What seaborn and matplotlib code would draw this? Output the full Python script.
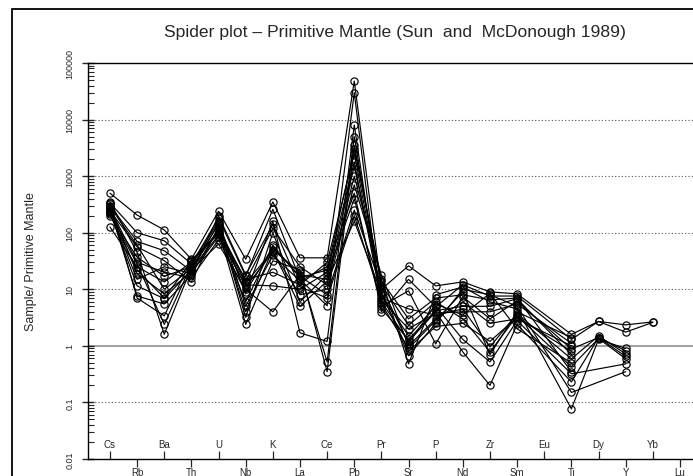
import numpy as np
import pandas as pd
import matplotlib
matplotlib.use("Agg")
import matplotlib.pyplot as plt
import matplotlib.ticker as mticker
from matplotlib.patches import Rectangle
import seaborn as sns

sns.set_style("ticks")
plt.rcParams["font.family"] = ["Liberation Sans", "DejaVu Sans"]

nan = np.nan
elements = ["Cs", "Rb", "Ba", "Th", "U", "Nb", "K", "La", "Ce", "Pb", "Pr",
            "Sr", "P", "Nd", "Zr", "Sm", "Eu", "Ti", "Dy", "Y", "Yb", "Lu"]

Cs = [500, 335, 300, 245, 200, 126, 280, 230, 260, 320, 220, 350, 270, 240, 210, 290]
Rb = [205, 100, 70, 56, 37, 25, 19, 11.5, 7.6, 7.0, 28, 45, 30, 15, 22, 60]
Ba = [112, 72, 48, 32, 17, 13.5, 8.3, 6.8, 5.5, 3.4, 2.4, 1.6, 20, 25, 7, 10]
Th = [34, 28, 21, 13.5, 25, 30, 20, 22, 18, 33, 27, 24, 16, 19, 31, 23]
U = [240, 180, 150, 130, 110, 100, 85, 63, 120, 95, 160, 140, 75, 200, 105, 90]
Nb = [34, 17, 8.3, 4, 2.4, 15, 12, 10, 14, 11, 5, 3.2, 9, 18, 13, 6]
K = [350, 260, 160, 50, 32, 20, 11.5, 4, 120, 45, 40, 100, 55, 140, 48, 60]
La = [36, 15, 1.7, 20, 22, 12, 10, 18, 25, 8, 14, 6, 17, 11, 5, 16]
Ce = [36, 5.1, 1.2, 0.52, 0.35, 30, 20, 15, 12, 10, 25, 18, 8, 7, 14, 22]
Pb = [48000, 30000, 8000, 5000, 3500, 2500, 1800, 1500, 1000, 700, 500, 400, 250, 200, 160, 3000]
Pr = [10, 4, 5, 7, 12, 8, 6, 9, 15, 18, 4.5, 5.5, 11, 6.5, 8.5, 14]
Sr = [26, 15, 9.4, 4.5, 2.3, 1.5, 1.2, 0.67, 0.48, 1.0, 1.3, 0.9, 1.1, 2.0, 0.8, 3.0]
P = [11.5, 4.9, 1.08, 3.5, 6, 5, 4, 2.5, 8, 3, 4.2, 2.8, 5.5, 3.8, 2.2, 7]
Nd = [13.5, 12, 7.4, 4.5, 3, 1.3, 0.78, 10, 11, 6, 5, 9, 3.5, 4, 2.5, 8]
Zr = [9, 7.6, 3, 0.96, 0.78, 0.52, 0.2, 8, 6, 2.5, 5, 0.7, 8.5, 4, 1.2, 6.5]
Sm = [8.3, 7.6, 6.2, 3.7, 3.4, 2.8, 2.4, 5, 4.5, 3, 6.8, 4, 2, 5.5, 3.2, 7]
Eu = [nan] * 16
Ti = [1.6, 1.3, 0.88, 0.59, 0.43, 0.32, 0.23, 0.15, 0.077, 1.0, 0.7, 1.4, 0.5, 1.1, 0.8, 0.35]
Dy = [2.7, 2.7, 1.4, 1.5, 1.35, nan, 1.4, nan, 1.3, nan, nan, nan, nan, nan, nan, nan]
Y = [2.35, 1.75, 0.82, 0.72, 0.59, 0.48, 0.65, 0.35, 0.9, nan, nan, nan, nan, nan, nan, nan]
Yb = [2.65, 2.6, nan, nan, nan, nan, nan, nan, nan, nan, nan, nan, nan, nan, nan, nan]
Lu = [nan] * 16

columns = [Cs, Rb, Ba, Th, U, Nb, K, La, Ce, Pb, Pr, Sr, P, Nd, Zr, Sm, Eu, Ti, Dy, Y, Yb, Lu]
ytick_vals = [0.01, 0.1, 1, 10, 100, 1000, 10000, 100000]
ytick_labels = ["0.01", "0.1", "1", "10", "100", "1000", "10000", "100000"]

rows = []
for ei, (el, vals) in enumerate(zip(elements, columns)):
    for si, v in enumerate(vals):
        rows.append({"sample": si, "pos": ei, "element": el, "value": v})
df = pd.DataFrame(rows).dropna().sort_values(["sample", "pos"])

W, H = 693, 477
fig = plt.figure(figsize=(W / 100, H / 100), dpi=100)
ax = fig.add_axes([88 / W, 1 - 460 / H, 1 - 88 / W, (460 - 64) / H])

ax.set_yscale("log")
ax.set_ylim(0.01, 100000)
ax.set_xlim(-0.81, 21.48)

# grid lines
for gv in [0.1, 10, 100, 1000, 10000]:
    ax.axhline(gv, color="#555555", lw=0.8, ls=(0, (1, 2)), zorder=0)
ax.axhline(1, color="#999999", lw=1.3, zorder=0)

sns.lineplot(data=df, x="pos", y="value", units="sample", estimator=None,
             sort=False, color="black", lw=0.85, marker="o", markersize=5.2,
             markerfacecolor="none", markeredgecolor="black",
             markeredgewidth=0.85, legend=False, ax=ax)

# spines
ax.spines["right"].set_visible(False)
for s in ["left", "top", "bottom"]:
    ax.spines[s].set_linewidth(1.0)
    ax.spines[s].set_color("black")

# y ticks
ax.yaxis.set_major_locator(mticker.FixedLocator(ytick_vals))
ax.yaxis.set_major_formatter(mticker.FixedFormatter(ytick_labels))
ax.yaxis.set_minor_locator(mticker.LogLocator(base=10, subs=np.arange(2, 10), numticks=20))
ax.yaxis.set_minor_formatter(mticker.NullFormatter())
ax.tick_params(axis="y", which="major", direction="inout", length=9, width=1.0,
               labelsize=6.5, pad=5, left=True)
ax.tick_params(axis="y", which="minor", direction="in", length=4.5, width=0.8, left=True)
for lab in ax.get_yticklabels():
    lab.set_rotation(90)
    lab.set_va("center")

# x ticks: alternating rows
pos = np.arange(len(elements))
ax.set_xticks(pos[::2])
ax.set_xticklabels([])
ax.set_xticks(pos[1::2], minor=True)
ax.set_xticklabels(elements[1::2], minor=True)
ax.tick_params(axis="x", which="major", direction="in", length=6, width=0.9, bottom=True)
ax.tick_params(axis="x", which="minor", direction="out", length=5.5, width=0.9,
               labelsize=7, pad=0.5, bottom=True)
for p, el in zip(pos[::2], elements[::2]):
    ax.text(p, 0.026, el, transform=ax.get_xaxis_transform(), ha="center",
            va="bottom", fontsize=7)

ax.set_xlabel("")
ax.set_ylabel("Sample/ Primitive Mantle", fontsize=9)
ax.yaxis.set_label_coords(-51 / 605, 0.5)

fig.text(395 / W, 1 - 32 / H, "Spider plot \u2013 Primitive Mantle (Sun  and  McDonough 1989)",
         ha="center", va="center", fontsize=12.6)

fig.patches.append(Rectangle((12 / W, -0.1), 1.2, 1.1 - 10 / H, transform=fig.transFigure,
                             fill=False, edgecolor="black", lw=1.3, zorder=10))

fig.savefig("out.png", dpi=100)
